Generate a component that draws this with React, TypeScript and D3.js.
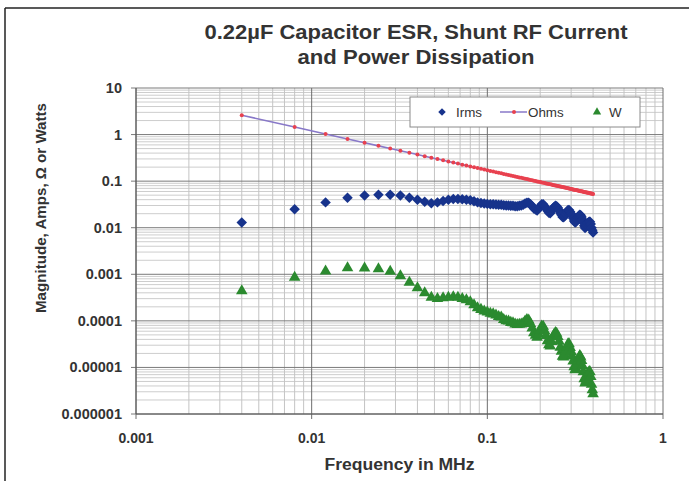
import React from 'react';
import * as d3 from 'd3';

// frequency sweep, kHz (plotted in MHz)
const freqKHz = [
  4, 8, 12, 16, 20, 24, 28, 32, 36, 40, 44, 48, 52, 56, 60, 64, 68, 72, 76, 80,
  84, 88, 92, 96, 100, 104, 108, 112, 116, 120, 124, 128, 132, 136, 140, 144, 148, 152, 156, 160,
  164, 168, 172, 176, 180, 184, 188, 192, 196, 200, 204, 208, 212, 216, 220, 224, 228, 232, 236, 240,
  244, 248, 252, 256, 260, 264, 268, 272, 276, 280, 284, 288, 292, 296, 300, 304, 308, 312, 316, 320,
  324, 328, 332, 336, 340, 344, 348, 352, 356, 360, 364, 368, 372, 376, 380, 384, 388, 392, 396, 400,
];

const irms = [
  0.013, 0.025, 0.035, 0.044, 0.049, 0.051, 0.051, 0.049, 0.044, 0.040,
  0.036, 0.0335, 0.035, 0.0375, 0.040, 0.0415, 0.0415, 0.041, 0.040, 0.039,
  0.037, 0.035, 0.034, 0.033, 0.0325, 0.032, 0.032, 0.0315, 0.031, 0.031,
  0.0305, 0.030, 0.030, 0.0295, 0.0295, 0.029, 0.029, 0.0295, 0.030, 0.031,
  0.033, 0.0345, 0.0345, 0.032, 0.029, 0.026, 0.0245, 0.0235, 0.026, 0.029,
  0.032, 0.032, 0.029, 0.026, 0.023, 0.021, 0.0205, 0.023, 0.026, 0.028,
  0.0295, 0.029, 0.027, 0.024, 0.021, 0.019, 0.017, 0.0168, 0.018, 0.020,
  0.022, 0.024, 0.024, 0.022, 0.020, 0.018, 0.016, 0.014, 0.013, 0.0135,
  0.015, 0.0165, 0.018, 0.019, 0.0185, 0.017, 0.015, 0.013, 0.011, 0.0099,
  0.0105, 0.0115, 0.0125, 0.013, 0.0135, 0.0135, 0.012, 0.010, 0.0088, 0.0079,
];

const ohms = [
  2.6, 1.45, 1.03, 0.806, 0.667, 0.572, 0.502, 0.449, 0.406, 0.372,
  0.343, 0.319, 0.298, 0.280, 0.264, 0.250, 0.238, 0.226, 0.216, 0.207,
  0.199, 0.191, 0.184, 0.178, 0.171, 0.166, 0.161, 0.156, 0.151, 0.147,
  0.143, 0.139, 0.136, 0.132, 0.129, 0.126, 0.123, 0.120, 0.118, 0.115,
  0.113, 0.111, 0.108, 0.106, 0.104, 0.102, 0.101, 0.0988, 0.0971, 0.0955,
  0.0939, 0.0924, 0.0909, 0.0895, 0.0881, 0.0867, 0.0854, 0.0842, 0.0830, 0.0818,
  0.0807, 0.0796, 0.0786, 0.0775, 0.0765, 0.0755, 0.0745, 0.0736, 0.0727, 0.0718,
  0.0710, 0.0702, 0.0693, 0.0686, 0.0678, 0.0670, 0.0663, 0.0656, 0.0649, 0.0642,
  0.0635, 0.0629, 0.0622, 0.0616, 0.0610, 0.0604, 0.0598, 0.0592, 0.0587, 0.0581,
  0.0576, 0.0570, 0.0565, 0.0560, 0.0555, 0.0550, 0.0545, 0.0541, 0.0536, 0.0532,
];

const watts = [
  4.4e-4, 8.6e-4, 1.16e-3, 1.37e-3, 1.36e-3, 1.31e-3, 1.15e-3, 9.2e-4, 6.7e-4, 5.1e-4,
  4.0e-4, 3.2e-4, 3.0e-4, 3.1e-4, 3.2e-4, 3.25e-4, 3.2e-4, 3.0e-4, 2.8e-4, 2.55e-4,
  2.2e-4, 1.9e-4, 1.75e-4, 1.62e-4, 1.54e-4, 1.45e-4, 1.40e-4, 1.32e-4, 1.23e-4, 1.20e-4,
  1.06e-4, 1.0e-4, 9.8e-5, 9.2e-5, 9.0e-5, 8.5e-5, 8.3e-5, 8.4e-5, 8.5e-5, 8.8e-5,
  9.8e-5, 1.06e-4, 1.03e-4, 8.7e-5, 7.0e-5, 5.5e-5, 4.85e-5, 4.4e-5, 5.2e-5, 6.4e-5,
  7.7e-5, 7.6e-5, 6.1e-5, 4.8e-5, 3.7e-5, 3.06e-5, 2.87e-5, 3.56e-5, 4.5e-5, 5.1e-5,
  5.6e-5, 5.4e-5, 4.6e-5, 3.6e-5, 2.7e-5, 2.2e-5, 1.72e-5, 1.66e-5, 1.88e-5, 2.3e-5,
  2.75e-5, 3.2e-5, 3.2e-5, 2.66e-5, 2.17e-5, 1.74e-5, 1.36e-5, 1.03e-5, 8.8e-6, 9.4e-6,
  1.14e-5, 1.37e-5, 1.61e-5, 1.78e-5, 1.67e-5, 1.4e-5, 1.08e-5, 8.0e-6, 5.7e-6, 4.6e-6,
  5.1e-6, 6.0e-6, 7.1e-6, 7.6e-6, 8.1e-6, 8.0e-6, 6.3e-6, 4.3e-6, 3.3e-6, 2.7e-6,
];

const xTickLabels = ['0.001', '0.01', '0.1', '1'];
const yTickLabels = ['0.000001', '0.00001', '0.0001', '0.001', '0.01', '0.1', '1', '10'];
const seriesNames = ['Irms', 'Ohms', 'W'];

const FONT = '"Liberation Sans", Arial, Helvetica, sans-serif';
const TEXT = '#333';
const C_IRMS = '#17338c';
const C_OHMS_LINE = '#8878c8';
const C_OHMS_DOT = '#e8414f';
const C_W = '#2b8a2f';

const W = 689;
const H = 481;
const margin = { left: 136, right: 26, top: 88, bottom: 67 };

export default function App() {
  const x = d3.scaleLog().domain([0.001, 1]).range([margin.left, W - margin.right]);
  const y = d3.scaleLog().domain([1e-6, 10]).range([H - margin.bottom, margin.top]);
  const [x0, x1] = x.range();
  const [y0, y1] = y.range();

  // grid lines: decades + 2..9 within each decade
  const xMinor: number[] = [];
  const xMajor = xTickLabels.map((t) => +t);
  xMajor.slice(0, -1).forEach((d) => { for (let m = 2; m <= 9; m++) xMinor.push(d * m); });
  const yMinor: number[] = [];
  const yMajor = yTickLabels.map((t) => +t);
  yMajor.slice(0, -1).forEach((d) => { for (let m = 2; m <= 9; m++) yMinor.push(d * m); });

  const fx = (i: number) => x(freqKHz[i] / 1000);

  const diamond = d3.symbol().type(d3.symbolSquare).size(55)()!;
  const triangle = d3.symbol().type(d3.symbolTriangle).size(58)()!;
  const ohmsLine = d3.line<number>()
    .x((d, i) => fx(i))
    .y((d) => y(d))(ohms)!;

  return (
    <svg width={W} height={H} style={{ position: 'absolute', left: 0, top: 0, background: '#fff' }} fontFamily={FONT}>
      {/* outer frame */}
      <line x1={5} y1={8} x2={5} y2={H + 5} stroke="#222" strokeWidth={1.5} />
      <line x1={5} y1={8} x2={W + 5} y2={8} stroke="#222" strokeWidth={1.5} />

      {/* title */}
      <text x={416} y={39} textAnchor="middle" fontSize={20.5} fontWeight="bold" fill={TEXT} textLength={423} lengthAdjust="spacingAndGlyphs">0.22µF Capacitor ESR, Shunt RF Current</text>
      <text x={416} y={64} textAnchor="middle" fontSize={20.5} fontWeight="bold" fill={TEXT} textLength={237} lengthAdjust="spacingAndGlyphs">and Power Dissipation</text>

      {/* grid */}
      <rect x={x0} y={y1} width={x1 - x0} height={y0 - y1} fill="#fff" />
      {yMinor.map((v, i) => (
        <line key={'ym' + i} x1={x0} x2={x1} y1={y(v)} y2={y(v)} stroke="#cdcdcd" strokeWidth={1} />
      ))}
      {xMinor.map((v, i) => (
        <line key={'xm' + i} x1={x(v)} x2={x(v)} y1={y1} y2={y0} stroke="#c4c4c4" strokeWidth={1} />
      ))}
      {yMajor.map((v, i) => (
        <line key={'yM' + i} x1={x0 - 5} x2={x1} y1={y(v)} y2={y(v)} stroke="#7a7a7a" strokeWidth={1} />
      ))}
      {xMajor.map((v, i) => (
        <line key={'xM' + i} x1={x(v)} x2={x(v)} y1={y1} y2={y0 + 5} stroke="#6e6e6e" strokeWidth={1} />
      ))}
      <line x1={x0} x2={x0} y1={y1} y2={y0} stroke="#555" strokeWidth={1} />
      <line x1={x0} x2={x1} y1={y0} y2={y0} stroke="#555" strokeWidth={1} />

      {/* tick labels */}
      {yTickLabels.map((t) => (
        <text key={'yl' + t} x={x0 - 14} y={y(+t) + 5} textAnchor="end" fontSize={14.5} fontWeight="bold" fill={TEXT}>{t}</text>
      ))}
      {xTickLabels.map((t) => (
        <text key={'xl' + t} x={x(+t)} y={y0 + 29} textAnchor="middle" fontSize={14} fontWeight="bold" fill={TEXT}>{t}</text>
      ))}

      {/* axis titles */}
      <text x={(x0 + x1) / 2} y={y0 + 56} textAnchor="middle" fontSize={16} fontWeight="bold" fill={TEXT} textLength={150} lengthAdjust="spacingAndGlyphs">Frequency in MHz</text>
      <text transform="translate(46,208) rotate(-90)" textAnchor="middle" fontSize={15.5} fontWeight="bold" fill={TEXT} textLength={210} lengthAdjust="spacingAndGlyphs">Magnitude, Amps, Ω or Watts</text>

      {/* series */}
      <g>
        {irms.map((v, i) => (
          <path key={'i' + i} d={diamond} transform={`translate(${fx(i)},${y(v)}) rotate(45)`} fill={C_IRMS} />
        ))}
      </g>
      <g>
        <path d={ohmsLine} fill="none" stroke={C_OHMS_LINE} strokeWidth={1.6} />
        {ohms.map((v, i) => (
          <circle key={'o' + i} cx={fx(i)} cy={y(v)} r={2} fill={C_OHMS_DOT} />
        ))}
      </g>
      <g>
        {watts.map((v, i) => (
          <path key={'w' + i} d={triangle} transform={`translate(${fx(i)},${y(v)})`} fill={C_W} />
        ))}
      </g>

      {/* legend */}
      <g>
        <rect x={410} y={97} width={230} height={30} fill="#fff" stroke="#8a8a8a" strokeWidth={1} />
        <path d={d3.symbol().type(d3.symbolSquare).size(28)()!} transform="translate(442,112) rotate(45)" fill={C_IRMS} />
        <text x={456} y={117} fontSize={13.4} fill={TEXT}>{seriesNames[0]}</text>
        <line x1={500} x2={527} y1={112} y2={112} stroke={C_OHMS_LINE} strokeWidth={1.5} />
        <circle cx={514} cy={112} r={2} fill={C_OHMS_DOT} />
        <text x={528} y={117} fontSize={13.4} fill={TEXT}>{seriesNames[1]}</text>
        <path d={d3.symbol().type(d3.symbolTriangle).size(30)()!} transform="translate(597,112)" fill={C_W} />
        <text x={609} y={117} fontSize={13.4} fill={TEXT}>{seriesNames[2]}</text>
      </g>
    </svg>
  );
}
